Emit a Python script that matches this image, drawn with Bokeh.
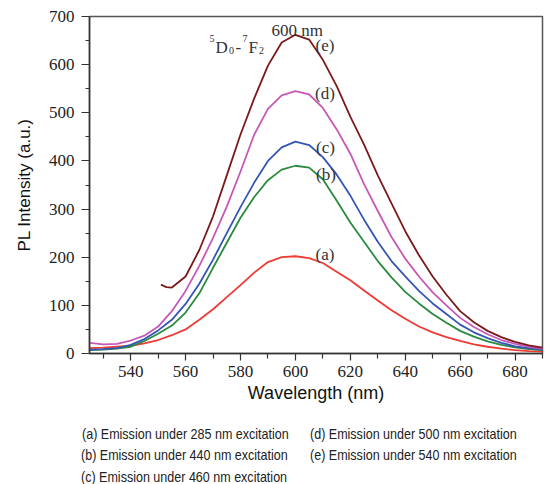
from bokeh.plotting import figure
from bokeh.models import Range1d, FixedTicker, Label, Div
from bokeh.layouts import column
from bokeh.embed import file_html
from bokeh.resources import INLINE

# ---------------- data ----------------
wl_main = [525, 530, 535, 540, 545, 550, 555, 560, 565, 570, 575, 580, 585, 590,
           595, 600, 605, 610, 615, 620, 625, 630, 635, 640, 645, 650, 655, 660,
           665, 670, 675, 680, 685, 690]

pl_a = [11, 12, 14, 16, 21, 28, 38, 50, 70, 92, 117, 142, 168, 190,
        200, 202, 198, 188, 170, 152, 131, 110, 90, 72, 56, 44, 34, 26,
        19, 14, 10, 7, 5, 4]
pl_b = [7, 8, 10, 14, 26, 41, 58, 85, 125, 178, 230, 282, 325, 360,
        382, 390, 386, 362, 318, 272, 232, 192, 158, 128, 104, 82, 64, 47,
        35, 25, 18, 13, 9, 7]
pl_c = [8, 9, 11, 18, 30, 48, 70, 103, 145, 195, 250, 304, 355, 400,
        428, 440, 433, 408, 372, 328, 278, 232, 192, 160, 130, 104, 82, 60,
        44, 32, 22, 15, 11, 8]
pl_d = [22, 19, 20, 27, 37, 56, 88, 130, 182, 240, 305, 378, 455, 508,
        536, 545, 538, 510, 466, 415, 352, 296, 242, 197, 160, 127, 100, 74,
        55, 40, 28, 20, 14, 10]

wl_e = [551, 553, 555, 560, 565, 570, 575, 580, 585, 590, 595, 600, 605, 610,
        615, 620, 625, 630, 635, 640, 645, 650, 655, 660, 665, 670, 675, 680,
        685, 690]
pl_e = [143, 138, 137, 160, 215, 285, 370, 455, 530, 598, 646, 662, 652, 610,
        556, 492, 434, 370, 312, 254, 204, 160, 122, 88, 65, 47, 34, 24,
        17, 12]

x_ticks = [540, 560, 580, 600, 620, 640, 660, 680]
x_minor = [530, 550, 570, 590, 610, 630, 650, 670, 690]
y_ticks = [0, 100, 200, 300, 400, 500, 600, 700]
y_minor = [50, 150, 250, 350, 450, 550, 650]

curve_tags = ["(a)", "(b)", "(c)", "(d)", "(e)"]
captions_left = ["(a) Emission under 285 nm excitation",
                 "(b) Emission under 440 nm excitation",
                 "(c) Emission under 460 nm excitation"]
captions_right = ["(d) Emission under 500 nm excitation",
                  "(e) Emission under 540 nm excitation"]

# ---------------- figure ----------------
X0, X1, Y0, Y1 = 525, 690, 0, 700
W, H = 549, 416
ML, MR, MT, MB = 89, 7, 16, 63
FW, FH = W - ML - MR, H - MT - MB

p = figure(width=W, height=H, x_range=Range1d(X0, X1), y_range=Range1d(Y0, Y1),
           output_backend="svg", toolbar_location=None,
           min_border_left=ML, min_border_right=MR, min_border_top=MT, min_border_bottom=MB)
p.grid.visible = False
p.background_fill_color = "white"
p.border_fill_color = "white"
p.outline_line_color = "#555555"
p.outline_line_width = 1.5


def X(px):  # page pixel -> data x
    return X0 + (px - ML) * (X1 - X0) / FW


def Y(py):  # page pixel -> data y
    return Y0 + (MT + FH - py) * (Y1 - Y0) / FH


serif = "Liberation Serif"
sans = "Liberation Sans"

for ax in (p.xaxis[0], p.yaxis[0]):
    ax.axis_line_color = "#333333"
    ax.axis_line_width = 1.5
    ax.major_tick_line_color = "#333333"
    ax.minor_tick_line_color = "#333333"
    ax.major_tick_line_width = 1.2
    ax.minor_tick_line_width = 1.2
    ax.major_tick_in = 0
    ax.minor_tick_in = 0
    ax.major_label_text_font = serif
    ax.major_label_text_font_size = "17px"
    ax.major_label_text_color = "#222222"
    ax.axis_label_text_font = sans
    ax.axis_label_text_font_style = "normal"
    ax.axis_label_text_color = "#111111"

p.xaxis.ticker = FixedTicker(ticks=x_ticks, minor_ticks=x_minor)
p.yaxis.ticker = FixedTicker(ticks=y_ticks, minor_ticks=y_minor)
p.xaxis.major_tick_out = 7
p.xaxis.minor_tick_out = 5
p.yaxis.major_tick_out = 8
p.yaxis.minor_tick_out = 4
p.xaxis.major_label_standoff = 5
p.yaxis.major_label_standoff = 7

p.xaxis.axis_label = "Wavelength (nm)"
p.xaxis.axis_label_text_font_size = "18px"
p.xaxis.axis_label_standoff = 3
p.yaxis.axis_label = "PL Intensity (a.u.)"
p.yaxis.axis_label_text_font_size = "17px"
p.yaxis.axis_label_standoff = 12

# ---------------- curves ----------------
p.line(wl_main, pl_a, line_color="#F03A33", line_width=1.8)
p.line(wl_main, pl_b, line_color="#2A8A3E", line_width=1.8)
p.line(wl_main, pl_c, line_color="#3556B5", line_width=1.8)
p.line(wl_main, pl_d, line_color="#C659B8", line_width=1.8)
p.line(wl_e, pl_e, line_color="#7A1A1C", line_width=1.8)

# ---------------- annotations ----------------
tag_pos = [(315, 254), (315.5, 173.7), (315.5, 146.7), (314.5, 93.3), (315, 45.3)]
for t, (px, py) in zip(curve_tags, tag_pos):
    p.add_layout(Label(x=X(px), y=Y(py), text=t, text_font=serif, text_font_size="17px",
                       text_color="#333333", text_baseline="middle", text_align="left"))

p.add_layout(Label(x=X(271), y=Y(30), text="600 nm", text_font=serif, text_font_size="17px",
                   text_color="#333333", text_baseline="alphabetic"))

term_parts = [("5", 209, 38.3, "10px"), ("D", 215, 47.3, "17px"), ("0", 228.5, 50, "10px"),
              ("-", 235, 47.3, "17px"), ("7", 242, 38.3, "10px"), ("F", 248, 47.3, "17px"),
              ("2", 258.5, 50, "10px")]
for t, px, py, fs in term_parts:
    p.add_layout(Label(x=X(px), y=Y(py), text=t, text_font=serif, text_font_size=fs,
                       text_color="#333333", text_baseline="alphabetic"))

# ---------------- captions below the chart ----------------
cap_pos_left = [(82, 9.8), (81, 31.3), (81, 53.3)]
cap_pos_right = [(310, 10.3), (310, 30.8)]
spans = []
for t, (x, y) in list(zip(captions_left, cap_pos_left)) + list(zip(captions_right, cap_pos_right)):
    spans.append(f'<span style="position:absolute;left:{x}px;top:{y}px;white-space:nowrap;'
                 f'transform:scaleX(0.835);transform-origin:0 0;">{t}</span>')
html = ('<div style="position:relative;width:549px;height:68px;overflow:hidden;'
        "font-family:'Liberation Sans',sans-serif;font-size:15px;"
        'line-height:15px;color:#222222;">' + "".join(spans) + '</div>')
captions = Div(text=html, width=549, height=68, margin=0)

layout = column(p, captions, spacing=0)

open("out.html", "w").write(file_html(layout, INLINE))
